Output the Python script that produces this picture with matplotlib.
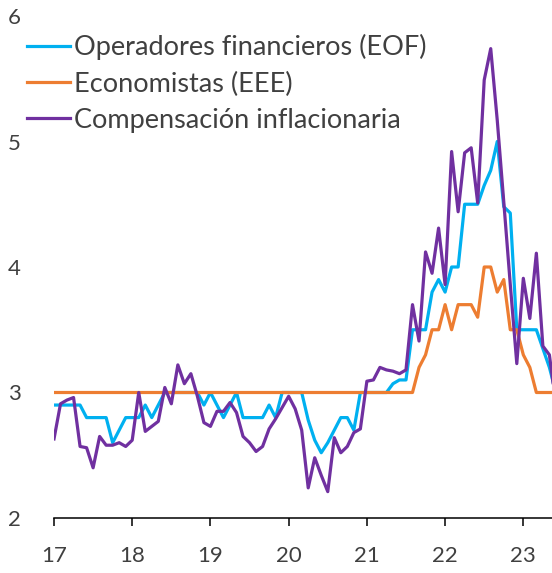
import numpy as np
import matplotlib
matplotlib.use("Agg")
import matplotlib.pyplot as plt

plt.rcParams['font.family'] = ['Lato', 'DejaVu Sans']

# monthly data, Jan 2017 onwards
eof = [2.9, 2.9, 2.9, 2.9, 2.9, 2.8, 2.8, 2.8, 2.8, 2.6, 2.7, 2.8,
       2.8, 2.8, 2.9, 2.8, 2.9, 3.0, 3.0, 3.0, 3.0, 3.0, 3.0, 2.9,
       3.0, 2.9, 2.8, 2.9, 3.0, 2.8, 2.8, 2.8, 2.8, 2.9, 2.8, 3.0,
       3.0, 3.0, 3.0, 2.78, 2.62, 2.52, 2.6, 2.7, 2.8, 2.8, 2.7, 3.0,
       3.0, 3.0, 3.0, 3.0, 3.07, 3.1, 3.1, 3.5, 3.5, 3.5, 3.8, 3.9,
       3.8, 4.0, 4.0, 4.5, 4.5, 4.5, 4.65, 4.77, 5.0, 4.48, 4.43, 3.5,
       3.5, 3.5, 3.5, 3.35, 3.2, 3.0]

eee = [3.0] * 55 + [3.0, 3.2, 3.3, 3.5, 3.5, 3.7, 3.5, 3.7, 3.7, 3.7, 3.6,
                    4.0, 4.0, 3.8, 3.9, 3.5, 3.5, 3.3, 3.2, 3.0, 3.0, 3.0, 3.0]

comp = [2.63, 2.91, 2.94, 2.96, 2.57, 2.56, 2.40, 2.65, 2.58, 2.58, 2.60, 2.57,
        2.62, 3.00, 2.69, 2.73, 2.77, 3.04, 2.91, 3.22, 3.07, 3.15, 2.97, 2.76,
        2.73, 2.85, 2.85, 2.92, 2.84, 2.65, 2.60, 2.53, 2.57, 2.71, 2.79, 2.88,
        2.97, 2.87, 2.70, 2.24, 2.48, 2.34, 2.21, 2.64, 2.52, 2.57, 2.68, 2.71,
        3.09, 3.10, 3.20, 3.18, 3.17, 3.15, 3.18, 3.70, 3.41, 4.12, 3.95, 4.31,
        3.86, 4.92, 4.44, 4.91, 4.95, 4.51, 5.49, 5.74, 5.17, 4.52, 3.86, 3.23,
        3.91, 3.59, 4.11, 3.37, 3.30, 2.90]

labels = ['Operadores financieros (EOF)', 'Economistas (EEE)', 'Compensación inflacionaria']
colors = ['#00B0F0', '#ED7D31', '#7030A0']
x_ticks = [17, 18, 19, 20, 21, 22, 23]

x = 2017 + np.arange(len(comp)) / 12

fig = plt.figure(figsize=(5.52, 5.73), dpi=100)
ax = fig.add_axes([54 / 552, 55 / 573, 1 - 54 / 552, (518 - 16) / 573])

ax.plot(x, eof, color=colors[0], lw=2.3, label=labels[0])
ax.plot(x, eee, color=colors[1], lw=2.3, label=labels[1])
ax.plot(x, comp, color=colors[2], lw=2.3, label=labels[2])

ax.set_xlim(2017, 2017 + 76.4 / 12)
ax.set_ylim(2, 6)
ax.set_xticks([2000 + t for t in x_ticks])
ax.set_xticklabels([str(t) for t in x_ticks])
ax.set_yticks([2, 3, 4, 5, 6])

for s in ['top', 'right', 'left']:
    ax.spines[s].set_visible(False)
ax.spines['bottom'].set_linewidth(1.1)
ax.tick_params(axis='x', direction='out', length=6, width=1.1, pad=14,
               labelsize=16, labelcolor='#404040')
ax.tick_params(axis='y', length=0, pad=24, labelsize=16, labelcolor='#404040')

leg = fig.legend(loc='upper left', bbox_to_anchor=(27 / 552, 1 - 34 / 573), frameon=False,
                 fontsize=19.5, handlelength=1.6, handletextpad=0.12,
                 labelspacing=0.42, borderaxespad=0, borderpad=0)
for t in leg.get_texts():
    t.set_color('#404040')

fig.savefig('out.png', dpi=100)
